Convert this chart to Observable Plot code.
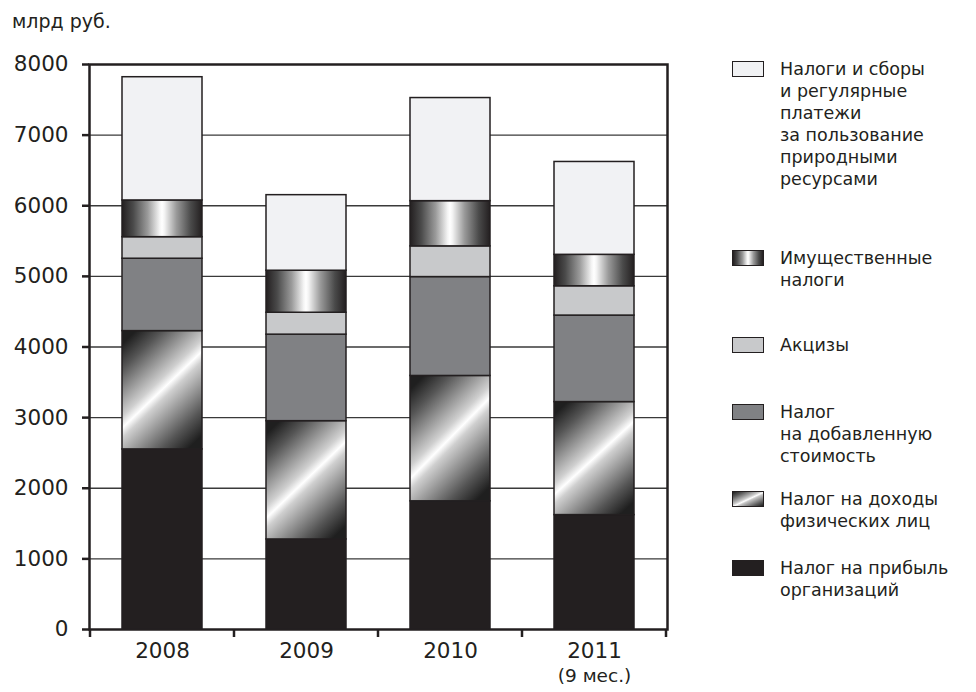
<!DOCTYPE html>
<html><head><meta charset="utf-8">
<script src="https://cdn.jsdelivr.net/npm/d3@7"></script>
<script src="https://cdn.jsdelivr.net/npm/@observablehq/plot@0.6"></script>
<style>
body{margin:0;background:#fff;font-family:"DejaVu Sans",sans-serif;color:#231f20}
#wrap{position:relative;width:976px;height:692px;overflow:hidden}
#wrap svg{position:absolute;left:0;top:0}
#unit{position:absolute;left:12px;top:9px;font-size:19px;line-height:24px}
.leg{position:absolute;left:732px;display:flex;align-items:flex-start}
.sw{width:32px;height:16px;box-sizing:border-box;border:1.5px solid #231f20;margin-top:3px;flex:none}
.lt{margin-left:16px;font-size:17.5px;line-height:22px;white-space:pre}
</style></head>
<body><div id="wrap"><div id="unit">млрд руб.</div></div>
<script>
// ---- data ----
const years = ["2008", "2009", "2010", "2011"];
const yearNotes = ["", "", "", "(9 мес.)"];
const taxTypes = ["profit", "income", "vat", "excise", "property", "resource"];
const profitTax = [2550, 1275, 1815, 1620];
const incomeTax = [1675, 1675, 1775, 1600];
const vat = [1025, 1225, 1400, 1225];
const excises = [305, 310, 435, 415];
const propertyTaxes = [520, 595, 640, 445];
const resourceTaxes = [1745, 1070, 1460, 1315];
const yTicks = [0, 1000, 2000, 3000, 4000, 5000, 6000, 7000, 8000];
const legendTypes = ["resource", "property", "excise", "vat", "income", "profit"];
const legendLabels = [
  "Налоги и сборы\nи регулярные\nплатежи\nза пользование\nприродными\nресурсами",
  "Имущественные\nналоги",
  "Акцизы",
  "Налог\nна добавленную\nстоимость",
  "Налог на доходы\nфизических лиц",
  "Налог на прибыль\nорганизаций"
];

// ---- styles ----
const ink = "#231f20";
const paint = {
  profit: ink,
  income: "url(#gIncome)",
  vat: "#808184",
  excise: "#c8c9cb",
  property: "url(#gProperty)",
  resource: "#f1f2f4"
};
const swatchCss = {
  profit: ink,
  income: "linear-gradient(to bottom right,#1f1f1f 0%,#5a5a5a 18%,#c8c8c8 44%,#ffffff 52%,#c8c8c8 58%,#5a5a5a 84%,#1f1f1f 100%)",
  vat: "#808184",
  excise: "#c8c9cb",
  property: "linear-gradient(to right,#231f20 0%,#4a4a4a 14%,#9a9a9a 32%,#f4f4f4 47%,#ffffff 50%,#f4f4f4 53%,#9a9a9a 68%,#4a4a4a 86%,#231f20 100%)",
  resource: "#f1f2f4"
};
const legendTops = [58, 247, 334, 401, 488, 557];

const series = {profit: profitTax, income: incomeTax, vat: vat, excise: excises, property: propertyTaxes, resource: resourceTaxes};
const rows = [];
for (const t of taxTypes) years.forEach((y, i) => rows.push({year: y, type: t, value: series[t][i], paint: paint[t]}));
const notes = years.map((y, i) => ({year: y, note: yearNotes[i]})).filter(d => d.note);

const plot = Plot.plot({
  width: 976, height: 692,
  marginLeft: 89, marginRight: 309, marginTop: 64, marginBottom: 63,
  style: {fontFamily: "'DejaVu Sans', sans-serif", fontSize: "21px", color: ink, background: "transparent", overflow: "visible"},
  x: {domain: years, paddingInner: 0.446, paddingOuter: 0.223, axis: null},
  y: {domain: [0, 8000], axis: null},
  color: {type: "identity"},
  marks: [
    Plot.ruleY(yTicks.filter(v => v > 0 && v < 8000), {stroke: "#3a3a3a", strokeWidth: 1.3}),
    Plot.barY(rows, {x: "year", y: "value", z: "type", fill: "paint", stroke: ink, strokeWidth: 1.5}),
    Plot.frame({stroke: ink, strokeWidth: 2.5}),
    Plot.axisY({ticks: yTicks, tickSize: 7, tickPadding: 14, strokeWidth: 2.5, fontSize: 21.5, label: null, tickFormat: d => String(d), fill: ink, stroke: ink}),
    Plot.text(years, {x: d => d, frameAnchor: "bottom", dy: 28, fontSize: 21.5, fill: ink}),
    Plot.text(notes, {x: "year", text: "note", frameAnchor: "bottom", dy: 52, fontSize: 18.5, fill: ink})
  ]
});

const svg = d3.select(plot);
svg.insert("defs", ":first-child").html(`
<linearGradient id="gProperty" x1="0" y1="0" x2="1" y2="0">
 <stop offset="0" stop-color="#231f20"/><stop offset="0.14" stop-color="#4a4a4a"/>
 <stop offset="0.32" stop-color="#9a9a9a"/><stop offset="0.47" stop-color="#f4f4f4"/>
 <stop offset="0.5" stop-color="#ffffff"/><stop offset="0.53" stop-color="#f4f4f4"/>
 <stop offset="0.68" stop-color="#9a9a9a"/><stop offset="0.86" stop-color="#4a4a4a"/>
 <stop offset="1" stop-color="#231f20"/>
</linearGradient>
<linearGradient id="gIncome" x1="0.175" y1="0" x2="0.825" y2="1">
 <stop offset="0" stop-color="#1f1f1f"/><stop offset="0.15" stop-color="#555"/>
 <stop offset="0.43" stop-color="#cfcfcf"/><stop offset="0.5" stop-color="#ffffff"/>
 <stop offset="0.56" stop-color="#cfcfcf"/><stop offset="0.85" stop-color="#555"/>
 <stop offset="1" stop-color="#1f1f1f"/>
</linearGradient>`);

// category boundary ticks on the x axis, from the band scale
const sx = plot.scale("x"), sy = plot.scale("y");
const gap = (sx.step - sx.bandwidth) / 2;
const bounds = years.map(y => sx.apply(y) - gap).concat([sx.apply(years[years.length - 1]) + sx.bandwidth + gap]);
const y0 = sy.apply(0);
svg.append("g").selectAll("line").data(bounds).join("line")
  .attr("x1", d => d).attr("x2", d => d).attr("y1", y0).attr("y2", y0 + 8)
  .attr("stroke", ink).attr("stroke-width", 2.5);

const wrap = document.getElementById("wrap");
wrap.prepend(plot);

legendTypes.forEach((t, i) => {
  const item = document.createElement("div");
  item.className = "leg";
  item.style.top = legendTops[i] + "px";
  const sw = document.createElement("div");
  sw.className = "sw";
  sw.style.background = swatchCss[t];
  const lt = document.createElement("div");
  lt.className = "lt";
  lt.textContent = legendLabels[i];
  item.append(sw, lt);
  wrap.append(item);
});
</script></body></html>
